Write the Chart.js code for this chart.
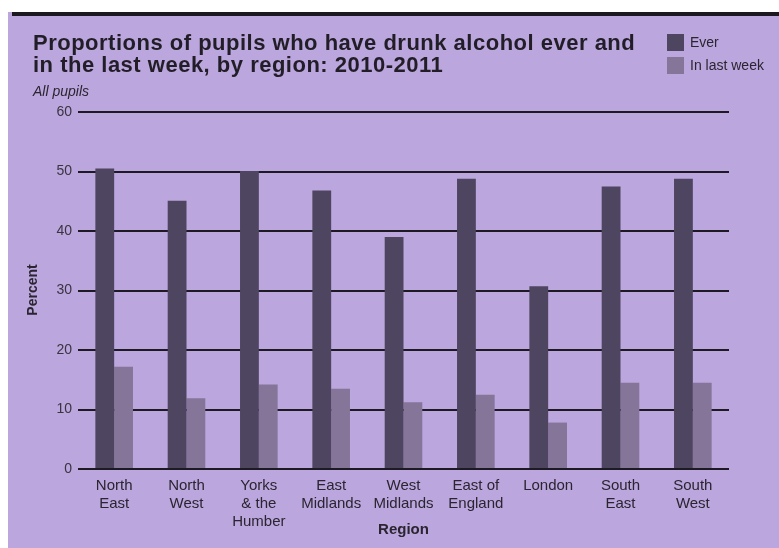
<!DOCTYPE html>
<html>
<head>
<meta charset="utf-8">
<title>Alcohol by region</title>
<script src="https://cdn.jsdelivr.net/npm/chart.js@4.4.0/dist/chart.umd.min.js"></script>
<style>
    html, body { margin: 0; padding: 0; background: #fff; }
    #panel { position: absolute; left: 8px; top: 12px; width: 771px; height: 536px; background: #bba6de; }
    #panel::before { content: ''; position: absolute; left: 4px; right: 0; top: 0; height: 4px; background: #1b1820; }
    #grafico { position: absolute; left: 0; top: 0; }
</style>
</head>
<body>
<div id="panel"></div>
<canvas id="grafico" width="779" height="548"></canvas>
<script>
// Datos
const regiones = [
    ['North', 'East'], ['North', 'West'], ['Yorks', '& the', 'Humber'],
    ['East', 'Midlands'], ['West', 'Midlands'], ['East of', 'England'],
    ['London'], ['South', 'East'], ['South', 'West']
];
const ever = [50.5, 45.1, 50.1, 46.8, 39.0, 48.8, 30.7, 47.5, 48.8];
const lastWeek = [17.2, 11.9, 14.2, 13.5, 11.2, 12.5, 7.8, 14.5, 14.5];
const ejeY = { min: 0, max: 60, paso: 10 };

const titulo = ['Proportions of pupils who have drunk alcohol ever and', 'in the last week, by region: 2010-2011'];
const subtitulo = 'All pupils';
const tituloY = 'Percent';
const tituloX = 'Region';
const series = ['Ever', 'In last week'];

const colores = { ever: '#4e4560', week: '#857599', grilla: '#1e1a24', texto: '#2a2530' };

// Textos, leyenda y titulos dibujados sobre el canvas
const textos = {
    id: 'textos',
    afterDraw(chart) {
        const ctx = chart.ctx;
        const area = chart.chartArea;
        ctx.save();
        ctx.fillStyle = '#221e27';
        ctx.textAlign = 'left';
        ctx.textBaseline = 'alphabetic';

        // Titulo
        ctx.font = 'bold 22px "Liberation Sans", Arial, sans-serif';
        ctx.letterSpacing = '0.5px';
        ctx.fillText(titulo[0], 33, 50);
        ctx.fillText(titulo[1], 33, 72);
        ctx.letterSpacing = '0px';

        // Subtitulo
        ctx.fillStyle = colores.texto;
        ctx.font = 'italic 14px "Liberation Sans", Arial, sans-serif';
        ctx.fillText(subtitulo, 33, 96);

        // Leyenda
        const colLeyenda = [colores.ever, colores.week];
        ctx.font = '14px "Liberation Sans", Arial, sans-serif';
        ctx.textBaseline = 'middle';
        series.forEach((s, i) => {
            const y = 34 + i * 23;
            ctx.fillStyle = colLeyenda[i];
            ctx.fillRect(667, y, 17, 17);
            ctx.fillStyle = colores.texto;
            ctx.fillText(s, 690, y + 9);
        });

        // Titulo eje X
        ctx.font = 'bold 15px "Liberation Sans", Arial, sans-serif';
        ctx.textAlign = 'center';
        ctx.textBaseline = 'alphabetic';
        ctx.fillText(tituloX, (area.left + area.right) / 2, 534);

        // Titulo eje Y (rotado)
        ctx.font = 'bold 14px "Liberation Sans", Arial, sans-serif';
        ctx.translate(33, 290);
        ctx.rotate(-Math.PI / 2);
        ctx.textBaseline = 'middle';
        ctx.fillText(tituloY, 0, 0);
        ctx.restore();
    }
};

const grafico = new Chart(document.getElementById('grafico'), {
    type: 'bar',
    data: {
        labels: regiones,
        datasets: [
            { label: series[0], data: ever, backgroundColor: colores.ever },
            { label: series[1], data: lastWeek, backgroundColor: colores.week }
        ]
    },
    options: {
        responsive: false,
        animation: false,
        layout: { padding: { left: 0, top: 112, right: 50, bottom: 0 } },
        datasets: {
            bar: { categoryPercentage: 0.52, barPercentage: 1.0 }
        },
        plugins: {
            legend: { display: false },
            title: { display: false },
            tooltip: { enabled: false }
        },
        scales: {
            x: {
                grid: { display: false },
                border: { display: false },
                ticks: {
                    color: colores.texto,
                    padding: 0,
                    maxRotation: 0,
                    autoSkip: false,
                    font: { family: '"Liberation Sans", Arial, sans-serif', size: 15, lineHeight: 1.2 }
                },
                afterFit(scale) { scale.height = 79; }
            },
            y: {
                min: ejeY.min,
                max: ejeY.max,
                border: { display: false },
                grid: { color: colores.grilla, lineWidth: 2, drawTicks: false },
                ticks: {
                    stepSize: ejeY.paso,
                    color: '#3a3440',
                    padding: 6,
                    font: { family: '"Liberation Sans", Arial, sans-serif', size: 14 }
                },
                afterFit(scale) { scale.width = 78; }
            }
        }
    },
    plugins: [textos]
});
</script>
</body>
</html>
